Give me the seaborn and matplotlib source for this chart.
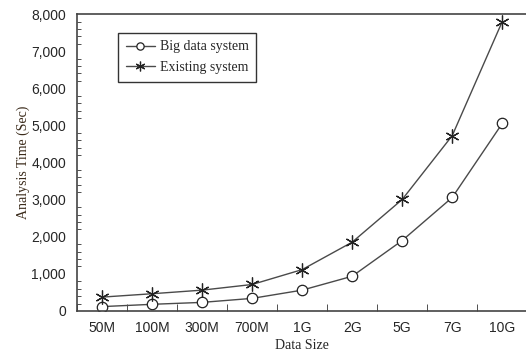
import numpy as np
import matplotlib
matplotlib.use('Agg')
import matplotlib.pyplot as plt
import matplotlib.ticker as mticker
import pandas as pd
import seaborn as sns

sizes = ['50M', '100M', '300M', '700M', '1G', '2G', '5G', '7G', '10G']
big_data = [118, 180, 232, 340, 562, 936, 1899, 3059, 5053]
existing = [374, 465, 562, 714, 1115, 1855, 3005, 4725, 7800]
series_names = ['Big data system', 'Existing system']

sns.set_style('ticks')
serif = 'Liberation Serif'
sans = 'Liberation Sans'
line_col = '#4a4a4a'

fig = plt.figure(figsize=(5.26, 3.53), dpi=100)
ax = fig.add_axes([0.1464, 0.119, 0.856, 0.841])

pos = np.arange(len(sizes))
# circles for the big data system, six-armed asterisk for the existing one
sns.lineplot(x=pos, y=big_data, ax=ax, color=line_col, linewidth=1.0,
             marker='o', markersize=7.5, markerfacecolor='white',
             markeredgecolor='#222222', markeredgewidth=0.9,
             label=series_names[0])
sns.lineplot(x=pos, y=existing, ax=ax, color=line_col, linewidth=1.0,
             marker=(6, 2, 0), markersize=10, markeredgecolor='#222222',
             markeredgewidth=0.9, label=series_names[1])

ax.set_xlim(-0.5, len(sizes) - 0.5)
ax.set_ylim(0, 8000)
ax.set_xticks(pos)
ax.set_xticklabels(sizes, fontfamily=sans, fontsize=10)
ax.xaxis.set_minor_locator(mticker.FixedLocator(np.arange(-0.5, len(sizes), 1.0)))
ax.tick_params(axis='x', which='major', length=0, pad=7)
ax.tick_params(axis='x', which='minor', direction='in', length=5, color='#333333')
ax.yaxis.set_major_locator(mticker.MultipleLocator(1000))
ax.yaxis.set_minor_locator(mticker.MultipleLocator(200))
ax.yaxis.set_major_formatter(mticker.StrMethodFormatter('{x:,.0f}'))
ax.tick_params(axis='y', which='major', direction='in', length=0, pad=8)
ax.tick_params(axis='y', which='minor', direction='in', length=3, color='#333333')
for lab in ax.get_yticklabels():
    lab.set_fontfamily(sans)
    lab.set_fontsize(10)

for s in ax.spines.values():
    s.set_color('#444444')
    s.set_linewidth(1.2)
ax.spines['right'].set_visible(False)

ax.set_xlabel('Data Size', fontfamily=serif, fontsize=10, labelpad=3)
ax.set_ylabel('Analysis Time (Sec)', fontfamily=serif, fontsize=10,
              color='#3a2a1a', labelpad=1)

leg = ax.legend(loc='upper left', bbox_to_anchor=(0.091, 0.937),
                prop={'family': serif, 'size': 10}, frameon=True,
                fancybox=False, edgecolor='#333333', handlelength=2.1,
                borderpad=0.55, labelspacing=0.55, handletextpad=0.35,
                borderaxespad=0, markerscale=0.7)
leg.get_frame().set_linewidth(1.0)
leg.get_frame().set_alpha(1.0)

fig.savefig('out.png', dpi=100)
